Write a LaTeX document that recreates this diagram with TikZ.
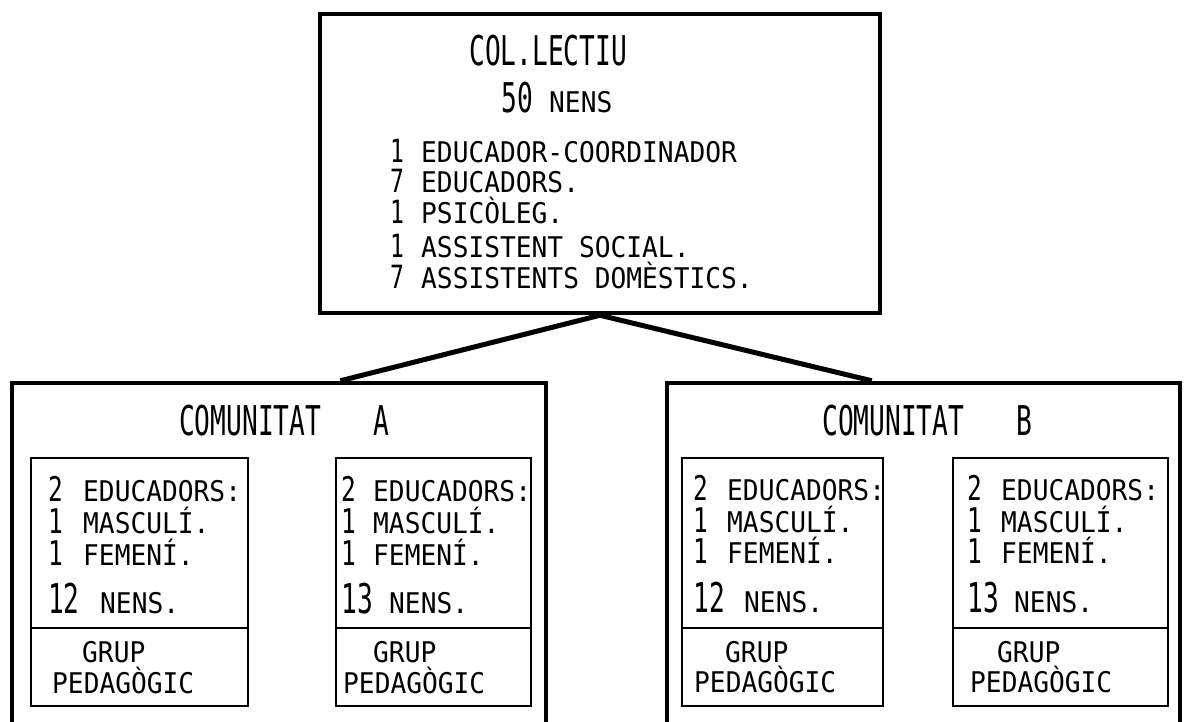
\documentclass[tikz,border=0pt]{standalone}
\usepackage{fontspec}
\newfontfamily\bigf[FakeStretch=0.64]{DejaVu Sans Mono}
\newfontfamily\dgf[FakeStretch=0.72]{DejaVu Sans Mono}
\newfontfamily\smf[FakeStretch=0.92]{DejaVu Sans Mono}
\usetikzlibrary{calc}
\begin{document}
\begin{tikzpicture}[x=1pt,y=-1pt,
  outerbox/.style={draw, line width=4.5pt, inner sep=0pt},
  innerbox/.style={draw, line width=1.8pt, inner sep=0pt},
  link/.style={line width=5pt},
  sm/.style={anchor=base west, inner sep=0pt, font={\smf\fontsize{28.5}{28.5}\selectfont}},
  bg/.style={anchor=base west, inner sep=0pt, font={\bigf\fontsize{41}{41}\selectfont}},
  dg/.style={anchor=base west, inner sep=0pt, font={\dgf\fontsize{34}{34}\selectfont}},
  md/.style={anchor=base west, inner sep=0pt, font={\dgf\fontsize{32}{32}\selectfont}}]
\clip (0,0) rectangle (1184,721);
\fill[white] (0,0) rectangle (1184,721);

% main boxes
\node[outerbox, minimum width=560pt, minimum height=299pt] (top) at (600,163.5) {};
\node[outerbox, minimum width=534pt, minimum height=362pt] (comA) at (279,564) {};
\node[outerbox, minimum width=513pt, minimum height=362pt] (comB) at (923.5,564) {};

% inner boxes
\node[innerbox, minimum width=217pt, minimum height=170pt] (a1t) at (139.5,543) {};
\node[innerbox, minimum width=217pt, minimum height=78pt] (a1b) at (139.5,667) {};
\node[innerbox, minimum width=195pt, minimum height=170pt] (a2t) at (433.5,543) {};
\node[innerbox, minimum width=195pt, minimum height=78pt] (a2b) at (433.5,667) {};
\node[innerbox, minimum width=201pt, minimum height=170pt] (b1t) at (782.5,543) {};
\node[innerbox, minimum width=201pt, minimum height=78pt] (b1b) at (782.5,667) {};
\node[innerbox, minimum width=215pt, minimum height=170pt] (b2t) at (1060.5,543) {};
\node[innerbox, minimum width=215pt, minimum height=78pt] (b2b) at (1060.5,667) {};

% connectors
\coordinate (ea) at ($(comA.north west)!0.614!(comA.north east)$);
\coordinate (eb) at ($(comB.north west)!0.40!(comB.north east)$);
\draw[link] (top.south) -- (ea);
\draw[link] (top.south) -- (eb);

% top box text
\node[bg] (t0) at (469,65) {COL.LECTIU};
\node[bg] (t1) at (501,112) {50};
\node[sm] (t2) at (549,112) {NENS};
\node[md] (d1) at (390,162) {1};
\node[sm] (l1) at (421,162) {EDUCADOR-COORDINADOR};
\node[md] (d2) at (390,192) {7};
\node[sm] (l2) at (421,192) {EDUCADORS.};
\node[md] (d3) at (390,223) {1};
\node[sm] (l3) at (421,223) {PSICÒLEG.};
\node[md] (d4) at (390,257) {1};
\node[sm] (l4) at (421,257) {ASSISTENT SOCIAL.};
\node[md] (d5) at (390,288) {7};
\node[sm] (l5) at (421,288) {ASSISTENTS DOMÈSTICS.};

% titles
\node[bg] (ca) at (179,435) {COMUNITAT};
\node[bg] (ca2) at (373,435) {A};
\node[bg] (cb) at (822,435) {COMUNITAT};
\node[bg] (cb2) at (1016,435) {B};

% A1
\node[dg] (a1d1) at (48,501) {2};
\node[sm] (a1l1) at (83,501) {EDUCADORS:};
\node[dg] (a1d2) at (48,533) {1};
\node[sm] (a1l2) at (83,533) {MASCULÍ.};
\node[dg] (a1d3) at (48,565) {1};
\node[sm] (a1l3) at (83,565) {FEMENÍ.};
\node[bg] (a1d4) at (48,613) {12};
\node[sm] (a1l4) at (100,613) {NENS.};
\node[sm] (a1g1) at (82,662) {GRUP};
\node[sm] (a1g2) at (52,693) {PEDAGÒGIC};

% A2
\node[dg] (a2d1) at (341,501) {2};
\node[sm] (a2l1) at (373,501) {EDUCADORS:};
\node[dg] (a2d2) at (341,533) {1};
\node[sm] (a2l2) at (373,533) {MASCULÍ.};
\node[dg] (a2d3) at (341,565) {1};
\node[sm] (a2l3) at (373,565) {FEMENÍ.};
\node[bg] (a2d4) at (341,613) {13};
\node[sm] (a2l4) at (389,613) {NENS.};
\node[sm] (a2g1) at (373,662) {GRUP};
\node[sm] (a2g2) at (343,693) {PEDAGÒGIC};

% B1
\node[dg] (b1d1) at (693,500) {2};
\node[sm] (b1l1) at (727,500) {EDUCADORS:};
\node[dg] (b1d2) at (693,532) {1};
\node[sm] (b1l2) at (727,532) {MASCULÍ.};
\node[dg] (b1d3) at (693,563) {1};
\node[sm] (b1l3) at (727,563) {FEMENÍ.};
\node[bg] (b1d4) at (693,612) {12};
\node[sm] (b1l4) at (744,612) {NENS.};
\node[sm] (b1g1) at (725,662) {GRUP};
\node[sm] (b1g2) at (694,692) {PEDAGÒGIC};

% B2
\node[dg] (b2d1) at (967,500) {2};
\node[sm] (b2l1) at (1001,500) {EDUCADORS:};
\node[dg] (b2d2) at (967,532) {1};
\node[sm] (b2l2) at (1001,532) {MASCULÍ.};
\node[dg] (b2d3) at (967,563) {1};
\node[sm] (b2l3) at (1001,563) {FEMENÍ.};
\node[bg] (b2d4) at (967,612) {13};
\node[sm] (b2l4) at (1014,612) {NENS.};
\node[sm] (b2g1) at (997,662) {GRUP};
\node[sm] (b2g2) at (970,692) {PEDAGÒGIC};
\end{tikzpicture}
\end{document}
